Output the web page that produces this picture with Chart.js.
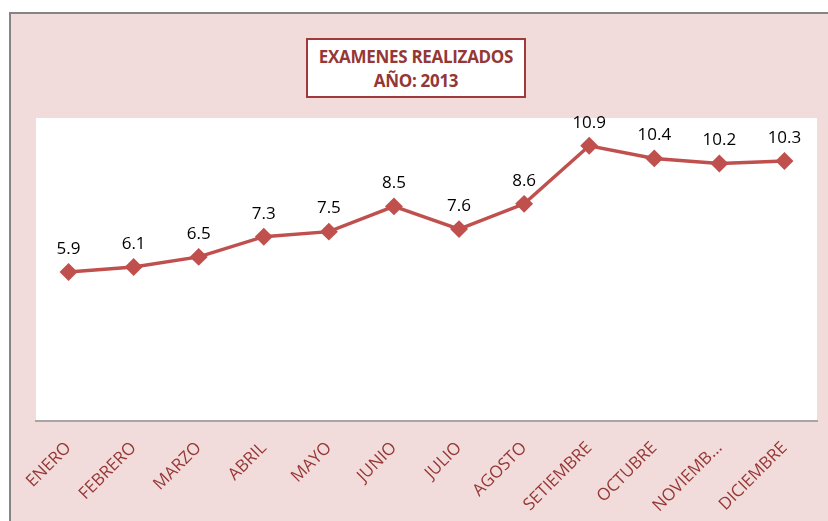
<!DOCTYPE html>
<html>
<head>
<meta charset="utf-8">
<script src="https://cdn.jsdelivr.net/npm/chart.js@4"></script>
<style>
    body { margin: 0; background: #ffffff; }
    #frame {
        position: absolute; left: 9px; top: 12px;
        width: 817px; height: 507px;
        background: #f2dcdb;
        border-top: 2px solid #858585;
        border-left: 2px solid #858585;
    }
    #title {
        position: absolute; left: 295px; top: 24px;
        width: 220px; height: 60px;
        background: #ffffff;
        border: 2px solid #a0393a;
        color: #953735;
        font: bold 17px "Open Sans", sans-serif;
        text-align: center;
        line-height: 24px;
        padding-top: 5px;
        box-sizing: border-box;
        letter-spacing: -0.3px;
    }
</style>
</head>
<body>
<div id="frame">
    <canvas id="examChart" width="817" height="507"></canvas>
    <div id="title">EXAMENES REALIZADOS<br>AÑO: 2013</div>
</div>
<script>
// Data
const months = ['ENERO', 'FEBRERO', 'MARZO', 'ABRIL', 'MAYO', 'JUNIO', 'JULIO',
    'AGOSTO', 'SETIEMBRE', 'OCTUBRE', 'NOVIEMB...', 'DICIEMBRE'];
const exams = [5.9, 6.1, 6.5, 7.3, 7.5, 8.5, 7.6, 8.6, 10.9, 10.4, 10.2, 10.3];

// white plot area
const plotBackground = {
    id: 'plotBackground',
    beforeDraw(chart) {
        const a = chart.chartArea;
        const ctx = chart.ctx;
        ctx.save();
        ctx.fillStyle = '#ffffff';
        ctx.fillRect(a.left, a.top, a.right - a.left, a.bottom - a.top);
        ctx.restore();
    }
};

// value labels above the points
const valueLabels = {
    id: 'valueLabels',
    afterDatasetsDraw(chart) {
        const ctx = chart.ctx;
        const meta = chart.getDatasetMeta(0);
        ctx.save();
        ctx.fillStyle = '#000000';
        ctx.font = '17px "Open Sans", sans-serif';
        ctx.textAlign = 'center';
        ctx.textBaseline = 'middle';
        meta.data.forEach(function(pt, i) {
            ctx.fillText(String(exams[i]), pt.x, pt.y - 23);
        });
        ctx.restore();
    }
};

document.addEventListener('DOMContentLoaded', function() {
    const ctx = document.getElementById('examChart').getContext('2d');
    new Chart(ctx, {
        type: 'line',
        data: {
            labels: months,
            datasets: [{
                data: exams,
                borderColor: '#c0504d',
                backgroundColor: '#c0504d',
                borderWidth: 3.5,
                pointStyle: 'rectRot',
                pointRadius: 6.5,
                pointBackgroundColor: '#c0504d',
                pointBorderColor: '#c0504d',
                tension: 0
            }]
        },
        options: {
            responsive: false,
            animation: false,
            layout: { padding: { left: 25, right: 11, top: 104, bottom: 0 } },
            plugins: {
                legend: { display: false },
                tooltip: { enabled: false }
            },
            scales: {
                x: {
                    offset: true,
                    grid: { display: false, drawTicks: false },
                    border: { display: true, color: '#a6a6a6', width: 2 },
                    ticks: {
                        color: '#953735',
                        font: { family: 'Open Sans', size: 17 },
                        minRotation: 45,
                        maxRotation: 45,
                        autoSkip: false,
                        padding: 17
                    },
                    afterFit(scale) { scale.height = 100; }
                },
                y: {
                    display: false,
                    min: 0,
                    max: 12
                }
            }
        },
        plugins: [plotBackground, valueLabels]
    });
});
</script>
</body>
</html>
